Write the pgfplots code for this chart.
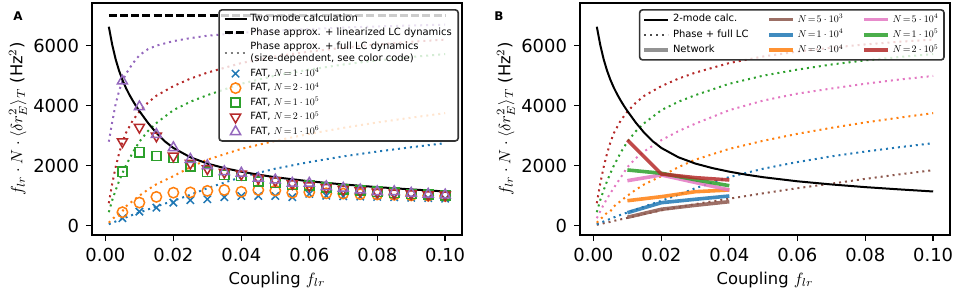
\documentclass[border=0pt]{standalone}
\usepackage{fontspec}
\setmainfont{DejaVu Sans}
\usepackage{graphicx}
\usepackage{pgfplots}
\pgfplotsset{compat=1.18}
\definecolor{tblue}{HTML}{1F77B4}
\definecolor{torange}{HTML}{FF7F0E}
\definecolor{tgreen}{HTML}{2CA02C}
\definecolor{tred}{HTML}{B52A2A}
\definecolor{tpurple}{HTML}{9467BD}
\definecolor{tbrown}{HTML}{8C564B}
\definecolor{tpink}{HTML}{E377C2}
\newcommand{\sm}[1]{\scalebox{0.5}{\fontsize{10}{12}\selectfont #1}}
\newcommand{\lbl}[1]{\scalebox{0.82}{\fontsize{10}{12}\selectfont #1}}
\pgfplotsset{
  panel/.style={width=185bp,height=116bp,scale only axis,
    xmin=-0.00395,xmax=0.10495,ymin=-310,ymax=7420,
    xtick={0,0.02,0.04,0.06,0.08,0.1}, ytick={0,2000,4000,6000},
    scaled x ticks=false, scaled y ticks=false,
    xticklabel style={/pgf/number format/.cd,fixed,fixed zerofill,precision=2},
    yticklabel style={/pgf/number format/.cd,fixed,1000 sep={}},
    /pgf/number format/assume math mode=true,
    tick label style={font=\fontsize{9}{10}\selectfont},
    tick align=outside, tick pos=left, major tick length=3bp,
    every tick/.style={black,line width=0.7bp},
    axis line style={line width=1.3bp},
    xlabel={\lbl{Coupling $f_{lr}$}},
    ylabel={\lbl{$f_{lr}\cdot N\cdot\langle \delta r_E^2\rangle_T$ (Hz$^2$)}},
    every axis x label/.style={at={(axis description cs:0.5,-0.194)},anchor=center,inner sep=0pt},
    every axis y label/.style={at={(axis description cs:-0.2,0.5)},rotate=90,anchor=center,inner sep=0pt},
    legend image code/.code={\draw[mark repeat=2,mark phase=2,##1] plot coordinates {(0bp,0bp)(5.5bp,0bp)(11bp,0bp)};},
  },
  dots/.style={line width=1bp, dash pattern=on 1bp off 2bp},
  net/.style={line width=1.8bp, opacity=0.85},
  fat/.style={only marks, mark size=2.6bp, line width=0.75bp, mark options={solid}},
}
\begin{document}
\begin{tikzpicture}
\useasboundingbox (0,0) rectangle (478.5bp,146.5bp);
% ================= Panel A =================
\begin{axis}[panel, at={(46bp,29bp)}, anchor=south west,
  legend style={at={(axis description cs:0.992,0.974)}, anchor=north east,
    font=\fontsize{5}{6.3}\selectfont, cells={anchor=west, align=left},
    nodes={inner xsep=1.2bp, inner ysep=0.4bp},
    fill=white, fill opacity=0.8, text opacity=1, draw=black!80, line width=0.8bp,
    rounded corners=1.5bp, row sep=0.9bp, inner xsep=2bp, inner ysep=1.5bp}]
% dotted: full LC dynamics
\addplot[forget plot, dots, tblue] coordinates {(0.001,50)(0.002,95)(0.003,140)(0.004,185)(0.005,230)(0.006,275)(0.008,360)(0.01,440)(0.0125,540)(0.015,640)(0.02,830)(0.025,1030)(0.03,1250)(0.04,1620)(0.05,1900)(0.06,2120)(0.07,2310)(0.08,2470)(0.09,2615)(0.1,2750)};
\addplot[forget plot, dots, torange] coordinates {(0.001,100)(0.002,210)(0.003,320)(0.004,430)(0.005,480)(0.006,640)(0.008,820)(0.01,1000)(0.0125,1200)(0.015,1380)(0.02,1650)(0.025,1950)(0.03,2200)(0.04,2560)(0.05,2830)(0.06,3060)(0.07,3260)(0.08,3440)(0.09,3600)(0.1,3750)};
\addplot[forget plot, dots, tgreen] coordinates {(0.001,450)(0.002,850)(0.003,1180)(0.004,1480)(0.005,1750)(0.006,2000)(0.008,2430)(0.01,2800)(0.0125,3150)(0.015,3420)(0.02,3850)(0.025,4130)(0.03,4350)(0.04,4730)(0.05,5000)(0.06,5200)(0.07,5370)(0.08,5510)(0.09,5620)(0.1,5720)};
\addplot[forget plot, dots, tred] coordinates {(0.001,750)(0.002,1400)(0.003,1950)(0.004,2400)(0.005,2780)(0.006,3080)(0.008,3500)(0.01,3800)(0.0125,4100)(0.015,4330)(0.02,4650)(0.025,4900)(0.03,5100)(0.04,5420)(0.05,5640)(0.06,5800)(0.07,5930)(0.08,6040)(0.09,6130)(0.1,6200)};
\addplot[forget plot, dots, tpurple] coordinates {(0.001,2800)(0.002,3450)(0.003,4050)(0.004,4480)(0.005,4820)(0.006,5050)(0.008,5400)(0.01,5680)(0.0125,5880)(0.015,6000)(0.02,6150)(0.025,6250)(0.03,6330)(0.04,6430)(0.05,6500)(0.06,6550)(0.07,6600)(0.08,6640)(0.09,6670)(0.1,6700)};
% dashed: linearized
\addplot[forget plot, black, line width=1.5bp, dash pattern=on 4bp off 1.6bp] coordinates {(0.001,7000)(0.1,7000)};
% two mode
\addplot[forget plot, black, line width=1bp] coordinates {(0.001,6630)(0.002,6030)(0.003,5550)(0.004,5170)(0.005,4860)(0.006,4600)(0.007,4375)(0.008,4175)(0.009,3990)(0.01,3820)(0.0125,3430)(0.015,3090)(0.0175,2810)(0.02,2590)(0.025,2280)(0.03,2070)(0.035,1920)(0.04,1800)(0.045,1700)(0.05,1615)(0.06,1480)(0.07,1375)(0.08,1285)(0.09,1210)(0.1,1140)};
% FAT markers
\addplot[forget plot, fat, tblue, mark=x] coordinates {(0.005,250)(0.01,470)(0.015,600)(0.02,770)(0.025,850)(0.03,880)(0.035,950)(0.04,990)(0.045,990)(0.05,990)(0.055,950)(0.06,1060)(0.065,1000)(0.07,980)(0.075,970)(0.08,960)(0.085,950)(0.09,930)(0.095,920)(0.1,900)};
\addplot[forget plot, fat, torange, mark=o] coordinates {(0.005,450)(0.01,770)(0.015,960)(0.02,1100)(0.025,1110)(0.03,1160)(0.035,1190)(0.04,1130)(0.045,1190)(0.05,1170)(0.055,1100)(0.06,1120)(0.065,1080)(0.07,1070)(0.075,1050)(0.08,1040)(0.085,1030)(0.09,1010)(0.095,1000)(0.1,990)};
\addplot[forget plot, fat, tgreen, mark=square, mark size=2.3bp] coordinates {(0.005,1800)(0.01,2450)(0.015,2320)(0.02,2260)(0.025,1970)(0.03,1800)(0.035,1690)(0.04,1660)(0.045,1470)(0.05,1420)(0.055,1360)(0.06,1340)(0.065,1270)(0.07,1210)(0.075,1170)(0.08,1130)(0.085,1100)(0.09,1060)(0.095,1040)(0.1,1010)};
\addplot[forget plot, fat, tred, mark=triangle, mark size=2.9bp, mark options={solid,rotate=180}] coordinates {(0.005,2800)(0.01,3280)(0.015,2990)(0.02,2320)(0.025,2080)(0.03,1900)(0.035,1780)(0.04,1720)(0.045,1580)(0.05,1500)(0.055,1400)(0.06,1330)(0.065,1270)(0.07,1210)(0.075,1160)(0.08,1120)(0.085,1090)(0.09,1060)(0.095,1030)(0.1,1020)};
\addplot[forget plot, fat, tpurple, mark=triangle, mark size=2.9bp] coordinates {(0.005,4820)(0.01,3960)(0.015,3040)(0.02,2600)(0.025,2210)(0.03,2000)(0.035,1800)(0.04,1750)(0.045,1580)(0.05,1520)(0.055,1413)(0.06,1413)(0.065,1300)(0.07,1247)(0.075,1190)(0.08,1133)(0.085,1133)(0.09,1080)(0.095,1047)(0.1,1023)};
% legend
\addlegendimage{black, line width=1bp}
\addlegendentry{Two mode calculation}
\addlegendimage{black, line width=1.5bp, dash pattern=on 4bp off 1.6bp}
\addlegendentry{Phase approx. + linearized LC dynamics}
\addlegendimage{dots, gray}
\addlegendentry{Phase approx. + full LC dynamics\\(size-dependent, see color code)}
\addlegendimage{fat, tblue, mark=x}
\addlegendentry{\sm{FAT, $N\!=\!1\cdot10^4$}}
\addlegendimage{fat, torange, mark=o}
\addlegendentry{\sm{FAT, $N\!=\!2\cdot10^4$}}
\addlegendimage{fat, tgreen, mark=square, mark size=2.3bp}
\addlegendentry{\sm{FAT, $N\!=\!1\cdot10^5$}}
\addlegendimage{fat, tred, mark=triangle, mark size=2.9bp, mark options={solid,rotate=180}}
\addlegendentry{\sm{FAT, $N\!=\!2\cdot10^5$}}
\addlegendimage{fat, tpurple, mark=triangle, mark size=2.9bp}
\addlegendentry{\sm{FAT, $N\!=\!1\cdot10^6$}}
\end{axis}
% ================= Panel B =================
\begin{axis}[panel, at={(290bp,29bp)}, anchor=south west,
  legend columns=3,
  legend image code/.code={\draw[#1] (0bp,0bp) -- (12bp,0bp);},
  legend style={at={(axis description cs:0.986,0.974)}, anchor=north east,
    font=\fontsize{5}{6.3}\selectfont, cells={anchor=west},
    nodes={inner xsep=1.4bp, inner ysep=0.6bp},
    fill=white, fill opacity=0.8, text opacity=1, draw=black!80, line width=0.8bp,
    rounded corners=1.5bp, row sep=0.9bp, inner xsep=1.5bp, inner ysep=1.5bp,
    /tikz/every even column/.append style={column sep=8bp}}]
\addplot[forget plot, dots, tbrown] coordinates {(0.001,30)(0.002,55)(0.003,80)(0.004,105)(0.005,130)(0.006,160)(0.008,210)(0.01,260)(0.0125,325)(0.015,390)(0.02,510)(0.025,620)(0.03,720)(0.04,900)(0.05,1080)(0.06,1250)(0.07,1400)(0.08,1560)(0.09,1710)(0.1,1850)};
\addplot[forget plot, dots, tblue] coordinates {(0.001,50)(0.002,95)(0.003,140)(0.004,185)(0.005,230)(0.006,275)(0.008,360)(0.01,440)(0.0125,540)(0.015,640)(0.02,830)(0.025,1030)(0.03,1250)(0.04,1620)(0.05,1900)(0.06,2120)(0.07,2310)(0.08,2470)(0.09,2615)(0.1,2750)};
\addplot[forget plot, dots, torange] coordinates {(0.001,100)(0.002,210)(0.003,320)(0.004,430)(0.005,480)(0.006,640)(0.008,820)(0.01,1000)(0.0125,1200)(0.015,1380)(0.02,1650)(0.025,1950)(0.03,2200)(0.04,2560)(0.05,2830)(0.06,3060)(0.07,3260)(0.08,3440)(0.09,3600)(0.1,3750)};
\addplot[forget plot, dots, tpink] coordinates {(0.001,250)(0.002,480)(0.003,700)(0.004,900)(0.005,1080)(0.006,1260)(0.008,1600)(0.01,1950)(0.0125,2250)(0.015,2480)(0.02,2850)(0.025,3150)(0.03,3400)(0.04,3850)(0.05,4170)(0.06,4400)(0.07,4570)(0.08,4730)(0.09,4870)(0.1,4990)};
\addplot[forget plot, dots, tgreen] coordinates {(0.001,450)(0.002,850)(0.003,1180)(0.004,1480)(0.005,1750)(0.006,2000)(0.008,2430)(0.01,2800)(0.0125,3150)(0.015,3420)(0.02,3850)(0.025,4130)(0.03,4350)(0.04,4730)(0.05,5000)(0.06,5200)(0.07,5370)(0.08,5510)(0.09,5620)(0.1,5720)};
\addplot[forget plot, dots, tred] coordinates {(0.001,750)(0.002,1400)(0.003,1950)(0.004,2400)(0.005,2780)(0.006,3080)(0.008,3500)(0.01,3800)(0.0125,4100)(0.015,4330)(0.02,4650)(0.025,4900)(0.03,5100)(0.04,5420)(0.05,5640)(0.06,5800)(0.07,5930)(0.08,6040)(0.09,6130)(0.1,6200)};
% network
\addplot[forget plot, net, tbrown] coordinates {(0.01,280)(0.02,547)(0.03,680)(0.04,800)};
\addplot[forget plot, net, tblue] coordinates {(0.01,433)(0.02,767)(0.03,880)(0.04,990)};
\addplot[forget plot, net, torange] coordinates {(0.01,833)(0.02,967)(0.03,1133)(0.04,1190)};
\addplot[forget plot, net, tpink] coordinates {(0.01,1500)(0.02,1690)(0.03,1440)(0.04,1190)};
\addplot[forget plot, net, tgreen] coordinates {(0.01,1857)(0.02,1747)(0.03,1530)(0.04,1333)};
\addplot[forget plot, net, tred] coordinates {(0.01,2857)(0.02,1723)(0.03,1600)(0.04,1523)};
% two mode
\addplot[forget plot, black, line width=1bp] coordinates {(0.001,6630)(0.002,6030)(0.003,5550)(0.004,5170)(0.005,4860)(0.006,4600)(0.007,4375)(0.008,4175)(0.009,3990)(0.01,3820)(0.0125,3430)(0.015,3090)(0.0175,2810)(0.02,2590)(0.025,2280)(0.03,2070)(0.035,1920)(0.04,1800)(0.045,1700)(0.05,1615)(0.06,1480)(0.07,1375)(0.08,1285)(0.09,1210)(0.1,1140)};
% legend (row-wise order for 3 columns)
\addlegendimage{black, line width=1bp}
\addlegendentry{2-mode calc.}
\addlegendimage{net, tbrown}
\addlegendentry{\sm{$N\!=\!5\cdot10^3$}}
\addlegendimage{net, tpink}
\addlegendentry{\sm{$N\!=\!5\cdot10^4$}}
\addlegendimage{dots, black!70}
\addlegendentry{Phase + full LC}
\addlegendimage{net, tblue}
\addlegendentry{\sm{$N\!=\!1\cdot10^4$}}
\addlegendimage{net, tgreen}
\addlegendentry{\sm{$N\!=\!1\cdot10^5$}}
\addlegendimage{net, gray}
\addlegendentry{Network}
\addlegendimage{net, torange}
\addlegendentry{\sm{$N\!=\!2\cdot10^4$}}
\addlegendimage{net, tred}
\addlegendentry{\sm{$N\!=\!2\cdot10^5$}}
\end{axis}
\node[font=\fontsize{6}{7}\selectfont\bfseries] at (9bp,138.5bp) {A};
\node[font=\fontsize{6}{7}\selectfont\bfseries] at (249.5bp,138.5bp) {B};
\end{tikzpicture}
\end{document}
